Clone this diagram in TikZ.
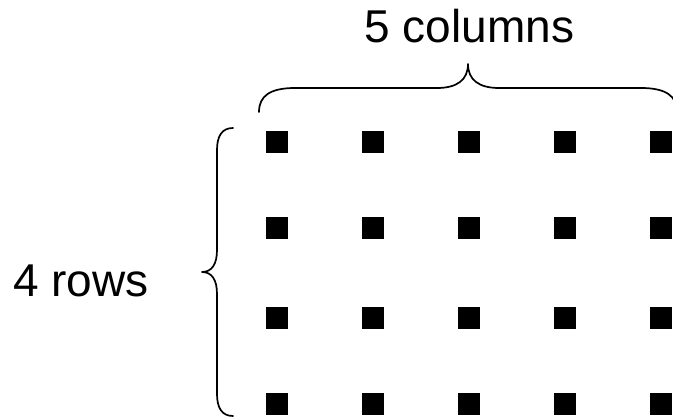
\documentclass[tikz,border=0pt]{standalone}
\usepackage{fontspec}
\setmainfont{Liberation Sans}
\begin{document}
\begin{tikzpicture}[x=1pt,y=-1pt,
  sq/.style={fill=black,draw=none,minimum size=22pt,inner sep=0pt,outer sep=0pt},
  lbl/.style={font=\fontsize{46}{50}\selectfont,inner sep=0pt,anchor=base},
  bracepath/.style={line width=1.7pt,line cap=round,line join=round}]
\useasboundingbox (0,0) rectangle (673,419);
% squares
\foreach \r/\y in {1/142.5,2/228.5,3/318.5,4/404}{
  \foreach \c/\x in {1/277,2/373,3/469,4/565,5/661}{
    \node[sq] (s\r\c) at (\x,\y) {};
  }
}
% labels
\node[lbl] (cols) at (469.5,42.3) {5 columns};
\node[lbl] (rows) at (81,296.7) {4 rows};
% top brace
\draw[bracepath] (259,112) .. controls (259,96) and (270,88) .. (295,88)
  -- (437,88) .. controls (457,88) and (468,80) .. (468,64)
  .. controls (468,80) and (479,88) .. (499,88)
  -- (641,88) .. controls (666,88) and (677,96) .. (677,112);
% left brace
\draw[bracepath] (233,128) .. controls (222,128) and (217,136) .. (217,150)
  -- (217,250) .. controls (217,264) and (212,272) .. (202,272)
  .. controls (212,272) and (217,280) .. (217,294)
  -- (217,394) .. controls (217,408) and (222,416) .. (233,416);
\end{tikzpicture}
\end{document}
